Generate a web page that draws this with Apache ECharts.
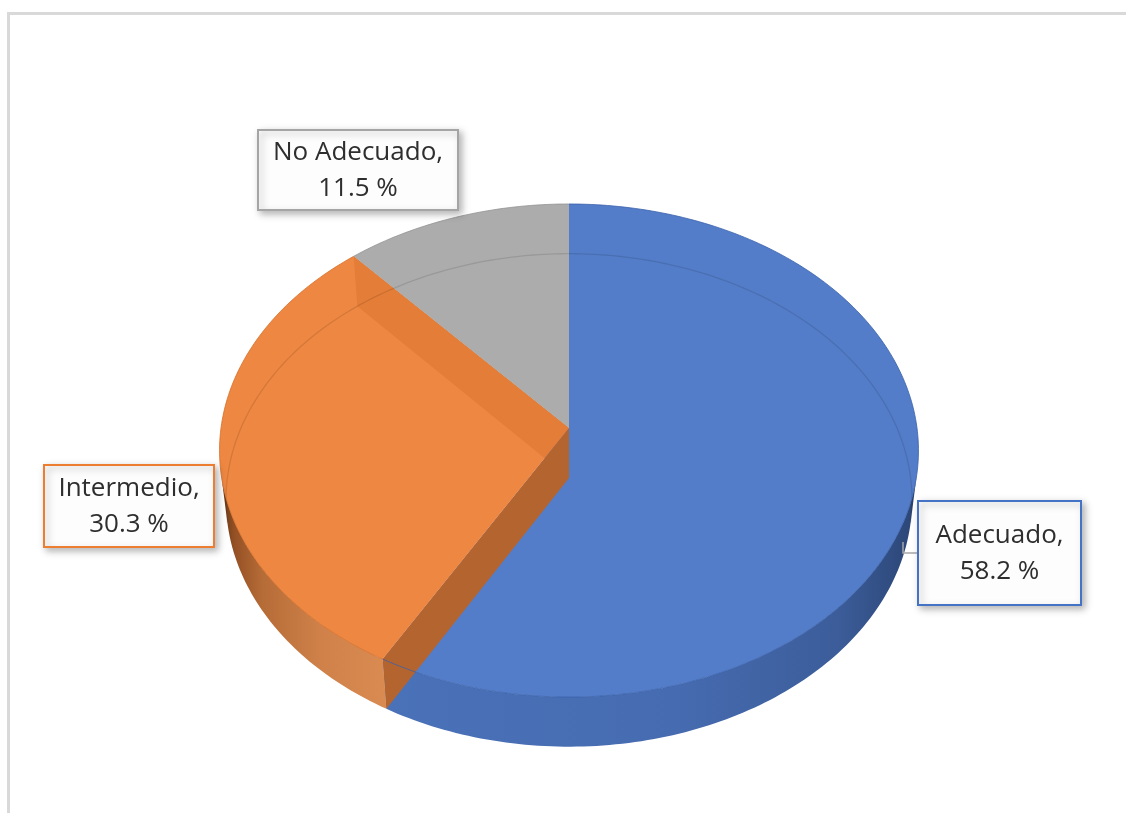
<!DOCTYPE html>
<html>
<head>
<meta charset="utf-8">
<script src="https://cdn.jsdelivr.net/npm/echarts@6/dist/echarts.min.js"></script>
<style>
  html, body { margin: 0; padding: 0; background: #ffffff; }
  #chart { width: 1126px; height: 813px; }
</style>
</head>
<body>
<div id="chart"></div>
<script>
// ---- data ----
const categories = ['Adecuado', 'Intermedio', 'No Adecuado'];
const percentages = [58.2, 30.3, 11.5];

// ---- look ----
const topColors = ['#4472C4', '#ED7D31', '#A5A5A5'];
const rimColors = ['#3b62aa', '#d76e28', '#949494'];
const radialColors = ['#36589a', '#b4642f', '#7b7b7b'];
const sideStops = [
  [[0, '#4a72b9'], [0.55, '#466bb0'], [0.85, '#3c5d9a'], [1, '#2b4575']],
  [[0, '#623514'], [0.08, '#945024'], [0.25, '#b66c37'], [0.6, '#cf8149'], [1, '#d98b52']],
  [[0, '#7a7a7a'], [1, '#9a9a9a']]
];
const sliceLayer = [1, 2, 0];          // painting order of the slices
const labelBoxes = [                   // [left, top, width, height]
  [918, 501, 163, 104],
  [44, 465, 170, 82],
  [258, 130, 200, 80]
];
const labelFont = '26px "Open Sans"';

// ---- 3D pie geometry (radius = 1, camera looking down at the disc) ----
const view = { cx: 569, cy: 428, rx: 348, tilt: 44.63, dist: 7.79, depth: 0.206 };
const sp = Math.sin(view.tilt * Math.PI / 180);
const cp = Math.cos(view.tilt * Math.PI / 180);
const focal = view.rx * view.dist;
// angle (deg, clockwise from the back) where the side wall turns away from the camera
const silhouette = Math.acos(-1 / (view.dist * cp)) * 180 / Math.PI;

function project(theta, r, z) {
  const t = theta * Math.PI / 180;
  const x = r * Math.sin(t);
  const y = -r * Math.cos(t);            // positive = towards the viewer
  const v = -y * sp + z * cp;
  const w = view.dist - y * cp - z * sp;
  return [view.cx + focal * x / w, view.cy - focal * v / w];
}

function arc(a0, a1, z) {
  const pts = [];
  const n = Math.max(2, Math.ceil(Math.abs(a1 - a0)));
  for (let k = 0; k <= n; k++) pts.push(project(a0 + (a1 - a0) * k / n, 1, z));
  return pts;
}

const total = percentages.reduce((s, v) => s + v, 0);
const startAngles = [];
const endAngles = [];
percentages.reduce((acc, v, i) => {
  startAngles[i] = acc / total * 360;
  endAngles[i] = (acc + v) / total * 360;
  return acc + v;
}, 0);

function radialWall(a) {
  const h = -view.depth;
  return [project(a, 0, 0), project(a, 1, 0), project(a, 1, h), project(a, 0, h)];
}

function renderSlice(params, api) {
  const i = params.dataIndex;
  const a0 = startAngles[i], a1 = endAngles[i];
  const base = sliceLayer[i] * 10;
  const h = -view.depth;
  const children = [];

  // outer wall, only the part facing the viewer
  const w0 = Math.max(a0, silhouette), w1 = Math.min(a1, 360 - silhouette);
  if (w1 > w0) {
    const pts = arc(w0, w1, 0).concat(arc(w1, w0, h));
    children.push({
      type: 'polygon', z2: base + 1,
      shape: { points: pts },
      style: { fill: new echarts.graphic.LinearGradient(0, 0, 1, 0,
        sideStops[i].map(s => ({ offset: s[0], color: s[1] }))) }
    });
  }
  // radial walls turned towards the viewer
  if (Math.sin(a0 * Math.PI / 180) < -1e-6) {
    children.push({ type: 'polygon', z2: base + 2, shape: { points: radialWall(a0) },
      style: { fill: radialColors[i] } });
  }
  if (Math.sin(a1 * Math.PI / 180) > 1e-6) {
    children.push({ type: 'polygon', z2: base + 2, shape: { points: radialWall(a1) },
      style: { fill: radialColors[i] } });
  }
  // top face
  const top = [project(0, 0, 0)].concat(arc(a0, a1, 0));
  children.push({
    type: 'polygon', z2: base + 3,
    shape: { points: top },
    style: { fill: topColors[i], opacity: 0.92 }
  });
  return { type: 'group', children: children };
}

function renderEdges(params, api) {
  const children = [];
  // far bottom rim, faintly visible through the top
  children.push({
    type: 'polyline', z2: 100,
    shape: { points: arc(360 - silhouette, 360 + silhouette, -view.depth) },
    style: { stroke: 'rgba(0,0,0,0.11)', lineWidth: 1.3, fill: null }
  });
  // top rims
  categories.forEach((c, i) => {
    children.push({
      type: 'polyline', z2: 101,
      shape: { points: arc(startAngles[i], endAngles[i], 0) },
      style: { stroke: rimColors[i], lineWidth: 1, fill: null, opacity: 0.8 }
    });
  });
  return { type: 'group', children: children };
}

function renderLabel(params, api) {
  const i = params.dataIndex;
  const b = labelBoxes[i];
  const children = [{
    type: 'rect', z2: 200,
    shape: { x: b[0], y: b[1], width: b[2], height: b[3] },
    style: {
      fill: '#fdfdfd', stroke: topColors[i], lineWidth: 2,
      shadowBlur: 7, shadowOffsetX: 3, shadowOffsetY: 3, shadowColor: 'rgba(0,0,0,0.28)'
    }
  }, {
    type: 'text', z2: 201,
    x: b[0] + b[2] / 2, y: b[1] + b[3] / 2 + 1,
    style: {
      text: categories[i] + ',\n' + percentages[i].toFixed(1) + ' %',
      font: labelFont, fill: '#2e2e2e', lineHeight: 36,
      align: 'center', verticalAlign: 'middle',
      textAlign: 'center', textVerticalAlign: 'middle'
    }
  }];
  if (i === 0) {
    // short leader from the wall to the box
    children.push({
      type: 'polyline', z2: 199,
      shape: { points: [[903, 542], [903, 553], [b[0], 553]] },
      style: { stroke: '#a6a6a6', lineWidth: 1.5, fill: null }
    });
  }
  return { type: 'group', children: children };
}

const chart = echarts.init(document.getElementById('chart'), null, { renderer: 'canvas' });
chart.setOption({
  animation: false,
  backgroundColor: '#ffffff',
  graphic: [{
    type: 'rect', silent: true, z: 0,
    shape: { x: 8.5, y: 13.5, width: 1200, height: 900 },
    style: { fill: 'none', stroke: '#d9d9d9', lineWidth: 3 }
  }],
  series: [
    { type: 'custom', coordinateSystem: 'none', silent: true, z: 2,
      data: percentages.map((v, i) => ({ name: categories[i], value: v })),
      renderItem: renderSlice },
    { type: 'custom', coordinateSystem: 'none', silent: true, z: 3,
      data: [0], renderItem: renderEdges },
    { type: 'custom', coordinateSystem: 'none', silent: true, z: 4,
      data: percentages.map((v, i) => ({ name: categories[i], value: v })),
      renderItem: renderLabel }
  ]
});
</script>
</body>
</html>
